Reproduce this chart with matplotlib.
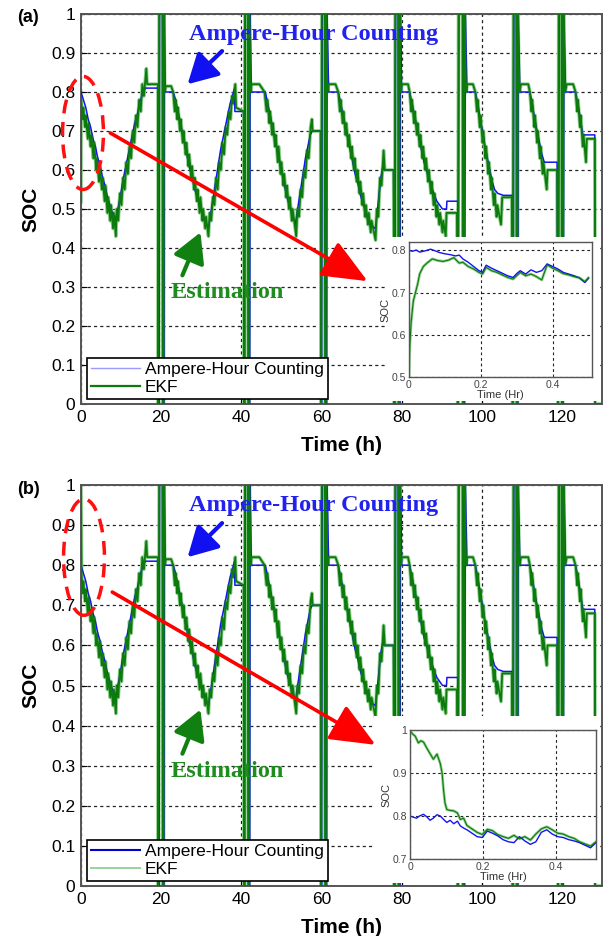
import matplotlib

matplotlib.use("Agg")
import matplotlib.pyplot as plt
import numpy as np
from matplotlib.lines import Line2D
from matplotlib.patches import Ellipse

# ---- main traces: (time h, SOC) vertices, cycle by cycle ----
AH_C1 = [(0, 0.80), (0.6, 0.78), (1.2, 0.76), (1.8, 0.73), (2.4, 0.71), (3.0, 0.68), (3.6, 0.66),
         (4.2, 0.63), (4.8, 0.61), (5.4, 0.58), (6.0, 0.56), (6.6, 0.53), (7.2, 0.51), (7.8, 0.49),
         (8.5, 0.47), (9.2, 0.50), (9.8, 0.53), (10.4, 0.57), (11.0, 0.60), (11.6, 0.63), (12.2, 0.66),
         (12.8, 0.69), (13.4, 0.72), (14.0, 0.74), (14.6, 0.77), (15.2, 0.79), (16.0, 0.81), (19.2, 0.81),
         (19.4, 0.0), (19.6, 1.0), (20.4, 1.0), (20.5, 0.0), (20.7, 0.0), (20.8, 1.0), (21.0, 0.80)]
AH_C2 = [(23.0, 0.80), (23.6, 0.78), (24.2, 0.75), (24.8, 0.72), (25.4, 0.69), (26.0, 0.66), (26.6, 0.63),
         (27.2, 0.60), (27.8, 0.58), (28.4, 0.55), (29.0, 0.53), (29.6, 0.51), (30.2, 0.49), (30.8, 0.47),
         (31.8, 0.45), (32.4, 0.49), (33.0, 0.53), (33.6, 0.57), (34.2, 0.61), (34.8, 0.65), (35.4, 0.68),
         (36.0, 0.71), (36.6, 0.74), (37.2, 0.77), (37.8, 0.79), (38.3, 0.81), (38.4, 0.75), (40.6, 0.75),
         (40.8, 0.0), (41.0, 1.0), (41.8, 1.0), (41.9, 0.0), (42.1, 0.0), (42.2, 1.0), (42.5, 0.80)]
AH_C3 = [(46.0, 0.80), (46.6, 0.77), (47.2, 0.74), (47.8, 0.71), (48.4, 0.68), (49.0, 0.65), (49.6, 0.62),
         (50.2, 0.59), (50.8, 0.56), (51.4, 0.53), (52.0, 0.51), (52.6, 0.49), (53.5, 0.46), (54.2, 0.51),
         (54.8, 0.55), (55.4, 0.59), (56.0, 0.63), (56.6, 0.66), (57.2, 0.69), (57.7, 0.70), (59.8, 0.70),
         (60.0, 0.0), (60.2, 1.0), (61.0, 1.0), (61.1, 0.0), (61.3, 0.0), (61.4, 1.0), (61.8, 0.80)]
AH_C4 = [(64.2, 0.80), (64.8, 0.77), (65.4, 0.74), (66.0, 0.71), (66.6, 0.68), (67.2, 0.65), (67.8, 0.62),
         (68.4, 0.59), (69.0, 0.57), (69.6, 0.54), (70.2, 0.52), (70.8, 0.50), (71.4, 0.48), (72.0, 0.46),
         (73.5, 0.45), (74.2, 0.52), (74.8, 0.58), (75.5, 0.62), (75.6, 0.60), (78.0, 0.60),
         (78.3, 0.0), (78.5, 1.0), (79.3, 1.0), (79.4, 0.0), (79.6, 0.0), (79.7, 1.0), (80.0, 0.80)]
AH_C5 = [(82.0, 0.80), (82.6, 0.77), (83.2, 0.74), (83.8, 0.71), (84.4, 0.68), (85.0, 0.65), (85.6, 0.62),
         (86.2, 0.60), (86.8, 0.58), (87.4, 0.56), (88.0, 0.54), (88.8, 0.52), (90.2, 0.50), (91.2, 0.50),
         (91.3, 0.52), (94.0, 0.52),
         (94.1, 0.0), (94.3, 1.0), (95.4, 1.0), (95.5, 0.0), (95.7, 0.0), (95.9, 1.0), (96.3, 0.80)]
AH_C6 = [(98.4, 0.80), (99.0, 0.77), (99.6, 0.73), (100.2, 0.70), (100.8, 0.66), (101.4, 0.63),
         (102.0, 0.60), (102.6, 0.57), (103.2, 0.55), (104.0, 0.54), (105.4, 0.535), (107.6, 0.535),
         (107.8, 0.0), (108.0, 1.0), (108.7, 1.0), (108.8, 0.0), (109.0, 0.0), (109.1, 1.0), (109.5, 0.80)]
AH_C7 = [(112.0, 0.80), (112.6, 0.77), (113.2, 0.73), (113.8, 0.70), (114.4, 0.67), (115.0, 0.64),
         (115.6, 0.62), (118.8, 0.62),
         (119.1, 0.0), (119.3, 1.0), (120.0, 1.0), (120.1, 0.0), (120.3, 0.0), (120.5, 1.0), (120.9, 0.80)]
AH_C8 = [(123.4, 0.80), (124.0, 0.77), (124.6, 0.73), (125.2, 0.69), (128.2, 0.69), (128.3, 0.0),
         (130.0, 0.0)]

EKF_START_A = [(0.0, 0.52), (0.05, 0.78)]
EKF_START_B = [(0.0, 1.0), (0.15, 0.78)]
EKF_C1 = [(0.4, 0.73), (0.6, 0.76), (1.0, 0.71), (1.2, 0.74), (1.7, 0.68), (1.9, 0.72), (2.4, 0.66),
          (2.6, 0.69), (3.1, 0.63), (3.3, 0.67), (3.8, 0.60), (4.0, 0.63), (4.5, 0.57), (4.7, 0.61),
          (5.2, 0.55), (5.4, 0.58), (5.9, 0.52), (6.1, 0.56), (6.6, 0.49), (6.8, 0.53), (7.3, 0.47),
          (7.5, 0.51), (8.0, 0.45), (8.2, 0.49), (8.7, 0.43), (8.9, 0.50), (9.3, 0.47), (9.7, 0.54),
          (10.1, 0.51), (10.5, 0.58), (10.9, 0.55), (11.3, 0.62), (11.7, 0.59), (12.1, 0.66), (12.5, 0.63),
          (12.9, 0.70), (13.3, 0.67), (13.7, 0.74), (14.1, 0.71), (14.5, 0.78), (14.9, 0.75), (15.3, 0.82),
          (15.7, 0.79), (16.3, 0.86), (16.5, 0.82), (19.2, 0.82),
          (19.3, 0.0), (19.5, 1.0), (20.3, 1.0), (20.4, 0.0), (20.6, 0.0), (20.7, 1.0), (20.9, 0.80),
          (21.2, 0.815), (22.5, 0.815)]
EKF_C2 = [(23.0, 0.80), (23.4, 0.75), (23.6, 0.78), (24.0, 0.73), (24.2, 0.76), (24.7, 0.70), (24.9, 0.73),
          (25.4, 0.67), (25.6, 0.70), (26.1, 0.64), (26.3, 0.67), (26.8, 0.61), (27.0, 0.64), (27.5, 0.58),
          (27.7, 0.61), (28.2, 0.55), (28.4, 0.58), (28.9, 0.52), (29.1, 0.55), (29.6, 0.49), (29.8, 0.53),
          (30.3, 0.47), (30.5, 0.50), (31.0, 0.45), (31.2, 0.48), (31.8, 0.43), (32.1, 0.49), (32.5, 0.47),
          (32.9, 0.53), (33.3, 0.51), (33.7, 0.58), (34.1, 0.55), (34.5, 0.62), (34.9, 0.60), (35.3, 0.67),
          (35.7, 0.64), (36.1, 0.71), (36.5, 0.69), (36.9, 0.75), (37.3, 0.73), (37.7, 0.79), (38.0, 0.77),
          (38.5, 0.82), (38.7, 0.76), (40.6, 0.75),
          (40.7, 0.0), (40.9, 1.0), (41.6, 1.0), (41.7, 0.0), (41.9, 0.0), (42.0, 1.0), (42.3, 0.80),
          (42.6, 0.82), (44.5, 0.82)]
EKF_C3 = [(45.8, 0.80), (46.3, 0.75), (46.5, 0.78), (47.0, 0.72), (47.2, 0.75), (47.7, 0.69), (47.9, 0.72),
          (48.4, 0.66), (48.6, 0.69), (49.1, 0.62), (49.3, 0.66), (49.8, 0.59), (50.0, 0.62), (50.5, 0.56),
          (50.7, 0.59), (51.2, 0.53), (51.4, 0.56), (51.9, 0.50), (52.1, 0.53), (52.6, 0.47), (52.8, 0.50),
          (53.7, 0.43), (54.0, 0.50), (54.4, 0.48), (54.8, 0.55), (55.2, 0.53), (55.6, 0.60), (56.0, 0.58),
          (56.4, 0.65), (56.8, 0.63), (57.3, 0.71), (57.6, 0.73), (57.8, 0.70), (59.8, 0.70),
          (59.9, 0.0), (60.1, 1.0), (60.8, 1.0), (60.9, 0.0), (61.1, 0.0), (61.2, 1.0), (61.5, 0.80),
          (61.8, 0.82), (63.5, 0.82)]
EKF_C4 = [(64.2, 0.80), (64.6, 0.75), (64.8, 0.78), (65.3, 0.72), (65.5, 0.75), (66.0, 0.69), (66.2, 0.72),
          (66.7, 0.66), (66.9, 0.69), (67.4, 0.63), (67.6, 0.66), (68.1, 0.60), (68.3, 0.63), (68.8, 0.57),
          (69.0, 0.60), (69.5, 0.54), (69.7, 0.57), (70.2, 0.51), (70.4, 0.54), (70.9, 0.48), (71.1, 0.51),
          (71.6, 0.46), (71.8, 0.49), (72.3, 0.44), (72.5, 0.47), (73.5, 0.42), (73.8, 0.50), (74.2, 0.48),
          (74.6, 0.58), (75.0, 0.56), (75.5, 0.65), (75.8, 0.60), (78.0, 0.60),
          (78.2, 0.0), (78.4, 1.0), (79.1, 1.0), (79.2, 0.0), (79.4, 0.0), (79.5, 1.0), (79.8, 0.80),
          (80.1, 0.82), (81.6, 0.82)]
EKF_C5 = [(82.0, 0.80), (82.4, 0.75), (82.6, 0.78), (83.1, 0.72), (83.3, 0.75), (83.8, 0.69), (84.0, 0.72),
          (84.5, 0.66), (84.7, 0.69), (85.2, 0.63), (85.4, 0.66), (85.9, 0.60), (86.1, 0.63), (86.6, 0.57),
          (86.8, 0.60), (87.3, 0.54), (87.5, 0.57), (88.0, 0.51), (88.2, 0.54), (88.7, 0.48), (88.9, 0.51),
          (89.4, 0.46), (89.6, 0.49), (90.2, 0.44), (90.4, 0.47), (91.0, 0.43), (91.2, 0.49), (93.8, 0.49),
          (94.0, 0.0), (94.2, 1.0), (95.2, 1.0), (95.3, 0.0), (95.5, 0.0), (95.7, 1.0), (96.1, 0.80),
          (96.4, 0.82), (97.8, 0.82)]
EKF_C6 = [(98.4, 0.80), (98.8, 0.75), (99.0, 0.78), (99.5, 0.71), (99.7, 0.74), (100.2, 0.67),
          (100.4, 0.70), (100.9, 0.63), (101.1, 0.66), (101.6, 0.59), (101.8, 0.62), (102.3, 0.55),
          (102.5, 0.58), (103.0, 0.51), (103.2, 0.54), (103.7, 0.48), (103.9, 0.51), (104.8, 0.46),
          (105.1, 0.53), (107.5, 0.53),
          (107.7, 0.0), (107.9, 1.0), (108.6, 1.0), (108.7, 0.0), (108.9, 0.0), (109.0, 1.0), (109.4, 0.80),
          (109.8, 0.82), (111.6, 0.82)]
EKF_C7 = [(112.0, 0.80), (112.4, 0.75), (112.6, 0.78), (113.1, 0.71), (113.3, 0.74), (113.8, 0.67),
          (114.0, 0.70), (114.5, 0.63), (114.7, 0.66), (115.2, 0.59), (115.4, 0.62), (116.2, 0.55),
          (116.4, 0.60), (118.8, 0.60),
          (119.0, 0.0), (119.2, 1.0), (119.9, 1.0), (120.0, 0.0), (120.2, 0.0), (120.4, 1.0), (120.8, 0.80),
          (121.2, 0.82), (122.8, 0.82)]
EKF_C8 = [(123.4, 0.80), (123.8, 0.75), (124.0, 0.78), (124.5, 0.71), (124.7, 0.74), (125.2, 0.66),
          (125.4, 0.69), (126.0, 0.62), (126.2, 0.68), (128.2, 0.68), (128.3, 0.0), (130.0, 0.0)]

AH_CYCLES = [AH_C1, AH_C2, AH_C3, AH_C4, AH_C5, AH_C6, AH_C7, AH_C8]
EKF_CYCLES = [EKF_C1, EKF_C2, EKF_C3, EKF_C4, EKF_C5, EKF_C6, EKF_C7, EKF_C8]

# ---- insets: first half hour ----
INSET_A_AH_T = [0, 0.01, 0.02, 0.03, 0.045, 0.06, 0.07, 0.085, 0.1, 0.115, 0.13, 0.14, 0.15, 0.165, 0.18,
                0.195, 0.205, 0.215, 0.23, 0.245, 0.26, 0.275, 0.29, 0.3, 0.31, 0.325, 0.34, 0.355, 0.37,
                0.385, 0.4, 0.415, 0.43, 0.445, 0.46, 0.475, 0.49, 0.5]
INSET_A_AH = [0.800, 0.798, 0.801, 0.796, 0.799, 0.803, 0.800, 0.795, 0.792, 0.790, 0.787, 0.789, 0.780,
              0.772, 0.762, 0.752, 0.748, 0.765, 0.758, 0.752, 0.746, 0.740, 0.736, 0.745, 0.752, 0.744,
              0.754, 0.748, 0.752, 0.768, 0.762, 0.756, 0.748, 0.744, 0.740, 0.735, 0.724, 0.734]
INSET_A_EKF_T = [0, 0.002, 0.006, 0.012, 0.018, 0.024, 0.03, 0.04, 0.05, 0.065, 0.08, 0.095, 0.11, 0.125,
                 0.14, 0.15, 0.165, 0.18, 0.195, 0.205, 0.215, 0.23, 0.245, 0.26, 0.275, 0.29, 0.3, 0.31,
                 0.325, 0.34, 0.355, 0.37, 0.385, 0.4, 0.415, 0.43, 0.445, 0.46, 0.475, 0.49, 0.5]
INSET_A_EKF = [0.50, 0.57, 0.63, 0.68, 0.70, 0.72, 0.745, 0.762, 0.770, 0.780, 0.776, 0.774, 0.777, 0.783,
               0.770, 0.772, 0.762, 0.756, 0.748, 0.744, 0.760, 0.752, 0.748, 0.742, 0.736, 0.732, 0.740,
               0.748, 0.740, 0.744, 0.738, 0.730, 0.766, 0.758, 0.752, 0.745, 0.742, 0.738, 0.735, 0.726,
               0.735]

INSET_B_AH_T = [0, 0.01, 0.018, 0.026, 0.037, 0.046, 0.055, 0.064, 0.074, 0.083, 0.092, 0.101, 0.11, 0.12,
                0.13, 0.138, 0.147, 0.156, 0.17, 0.184, 0.198, 0.212, 0.226, 0.24, 0.255, 0.27, 0.285, 0.3,
                0.315, 0.33, 0.345, 0.36, 0.375, 0.39, 0.405, 0.42, 0.435, 0.45, 0.465, 0.48, 0.495, 0.51]
INSET_B_AH = [0.800, 0.797, 0.795, 0.800, 0.804, 0.798, 0.790, 0.795, 0.803, 0.800, 0.792, 0.785, 0.790,
              0.782, 0.788, 0.777, 0.772, 0.768, 0.760, 0.752, 0.750, 0.765, 0.760, 0.754, 0.745, 0.740,
              0.738, 0.752, 0.742, 0.734, 0.740, 0.762, 0.768, 0.758, 0.752, 0.750, 0.745, 0.742, 0.738,
              0.732, 0.726, 0.738]
INSET_B_EKF_T = [0, 0.008, 0.014, 0.023, 0.03, 0.037, 0.046, 0.055, 0.064, 0.074, 0.083, 0.088, 0.092,
                 0.096, 0.101, 0.11, 0.12, 0.13, 0.138, 0.147, 0.156, 0.17, 0.184, 0.198, 0.212, 0.226, 0.24,
                 0.255, 0.27, 0.285, 0.3, 0.315, 0.33, 0.345, 0.36, 0.375, 0.39, 0.405, 0.42, 0.435, 0.45,
                 0.465, 0.48, 0.495, 0.51]
INSET_B_EKF = [0.998, 0.990, 0.986, 0.970, 0.975, 0.972, 0.958, 0.945, 0.932, 0.944, 0.922, 0.90, 0.86,
               0.83, 0.815, 0.813, 0.812, 0.807, 0.792, 0.795, 0.778, 0.770, 0.762, 0.757, 0.769, 0.766,
               0.757, 0.752, 0.748, 0.755, 0.747, 0.752, 0.744, 0.758, 0.770, 0.775, 0.768, 0.760, 0.758,
               0.752, 0.748, 0.740, 0.735, 0.730, 0.740]

X_TICKS = [0, 20, 40, 60, 80, 100, 120]
Y_TICKS = [0, 0.1, 0.2, 0.3, 0.4, 0.5, 0.6, 0.7, 0.8, 0.9, 1.0]
Y_TICK_LABELS = ["0", "0.1", "0.2", "0.3", "0.4", "0.5", "0.6", "0.7", "0.8", "0.9", "1"]

BLUE = "#1414f0"
GREEN = "#0d7a0d"
LIGHT_GREEN = "#8fcf8f"
SANS = "Liberation Sans"
SERIF = "Liberation Serif"

W, H = 608, 936


def split(segments):
    pts = [p for seg in segments for p in seg]
    t, s = zip(*pts)
    return np.array(t), np.array(s)


def rect(l, t, r, b):
    return [l / W, 1 - b / H, (r - l) / W, (b - t) / H]


def style_grid(ax, lw=0.9):
    ax.grid(True, color="#222222", linestyle=(0, (2.5, 2.5)), linewidth=lw)
    for sp in ax.spines.values():
        sp.set_color("#555555")


def draw_panel(fig, main_box, ekf_start, white_box, inset_box, inset, inset_ylim, inset_yticks,
               legend_styles, ellipse_xy, red_arrow):
    ax = fig.add_axes(rect(*main_box))
    t_ah, s_ah = split(AH_CYCLES)
    t_ekf, s_ekf = split([ekf_start] + EKF_CYCLES)

    ax.plot(t_ekf, s_ekf, color=LIGHT_GREEN, lw=2.6, zorder=2)
    ax.plot(t_ah, s_ah, color=BLUE, lw=1.1, zorder=3)
    ax.plot(t_ekf, s_ekf, color=GREEN, lw=1.3, zorder=4)

    ax.set_xlim(0, 130)
    ax.set_ylim(0, 1)
    ax.set_xticks(X_TICKS)
    ax.set_yticks(Y_TICKS)
    ax.set_yticklabels(Y_TICK_LABELS)
    ax.tick_params(direction="in", length=4, labelsize=12.5, pad=4, width=0.8)
    for lab in ax.get_xticklabels() + ax.get_yticklabels():
        lab.set_family(SANS)
    style_grid(ax)
    for sp in ax.spines.values():
        sp.set_linewidth(1.4)
    ax.set_xlabel("Time (h)", fontsize=15, fontweight="bold", family=SANS, labelpad=8)
    ax.set_ylabel("SOC", fontsize=15, fontweight="bold", family=SANS, labelpad=8)

    (ah_color, ah_lw), (ekf_color, ekf_lw) = legend_styles
    handles = [Line2D([], [], color=ah_color, lw=ah_lw), Line2D([], [], color=ekf_color, lw=ekf_lw)]
    leg = ax.legend(handles, ["Ampere-Hour Counting", "EKF"], loc="lower left",
                    bbox_to_anchor=(0.011, 0.012), borderaxespad=0, fancybox=False, framealpha=1,
                    edgecolor="black", handlelength=2.8, handletextpad=0.3, borderpad=0.25,
                    labelspacing=0.15, prop={"family": SANS, "size": 12.5})
    leg.get_frame().set_linewidth(1.2)
    leg.set_zorder(10)

    # annotations
    ax.text(58, 0.948, "Ampere-Hour Counting", color="#2222ee", fontsize=17.5, fontweight="bold",
            family=SERIF, ha="center", va="center", zorder=6)
    ax.annotate("", xy=(26.6, 0.82), xytext=(35.2, 0.905),
                arrowprops=dict(arrowstyle="-|>,head_length=0.9,head_width=0.5", color="#1010f0",
                                lw=3, mutation_scale=20, shrinkA=0, shrinkB=0), zorder=6)
    ax.text(36.5, 0.285, "Estimation", color="#1e8c1e", fontsize=17.5, fontweight="bold",
            family=SERIF, ha="center", va="center", zorder=6)
    ax.annotate("", xy=(29.8, 0.44), xytext=(25.3, 0.33),
                arrowprops=dict(arrowstyle="-|>,head_length=0.9,head_width=0.5", color="#108010",
                                lw=3, mutation_scale=20, shrinkA=0, shrinkB=0), zorder=6)
    ax.add_patch(Ellipse(ellipse_xy, width=10.2, height=0.29, fill=False, ec="#ff1010", lw=2.5,
                         ls=(0, (4, 2.5)), clip_on=False, zorder=7))
    tail, tip = red_arrow
    ax.annotate("", xy=tip, xytext=tail,
                arrowprops=dict(arrowstyle="-|>,head_length=1.4,head_width=0.6", color="#ff0000",
                                lw=2.6, mutation_scale=20, shrinkA=0, shrinkB=0), zorder=7)

    # white backing of the pasted inset picture
    back = fig.add_axes(rect(*white_box))
    back.set_facecolor("white")
    back.set_xticks([])
    back.set_yticks([])
    for sp in back.spines.values():
        sp.set_visible(False)

    # inset
    ins = fig.add_axes(rect(*inset_box))
    (ah_t, ah_s), (ekf_t, ekf_s) = inset
    ins.plot(ekf_t, ekf_s, color=LIGHT_GREEN, lw=2.0)
    ins.plot(ah_t, ah_s, color=BLUE, lw=1.0)
    ins.plot(ekf_t, ekf_s, color=GREEN, lw=0.8)
    ins.set_xlim(0, 0.51)
    ins.set_ylim(*inset_ylim)
    ins.set_xticks([0, 0.2, 0.4])
    ins.set_xticklabels(["0", "0.2", "0.4"])
    ins.set_yticks(inset_yticks)
    ins.set_yticklabels([f"{v:g}" for v in inset_yticks])
    ins.tick_params(direction="in", length=2.5, labelsize=7.5, pad=2, colors="#444444", width=0.6)
    for lab in ins.get_xticklabels() + ins.get_yticklabels():
        lab.set_family(SANS)
    style_grid(ins, lw=0.8)
    for sp in ins.spines.values():
        sp.set_linewidth(1.0)
    ins.set_xlabel("Time (Hr)", fontsize=8, family=SANS, color="#333333", labelpad=0)
    ins.set_ylabel("SOC", fontsize=8, family=SANS, color="#333333", labelpad=1)
    return ax


def main() -> None:
    fig = plt.figure(figsize=(W / 100, H / 100), dpi=100)

    draw_panel(fig, (81, 14, 602, 404), EKF_START_A, (386, 237, 599, 401), (409, 242, 592, 377),
               ((INSET_A_AH_T, INSET_A_AH), (INSET_A_EKF_T, INSET_A_EKF)), (0.5, 0.82),
               [0.5, 0.6, 0.7, 0.8], (("#9a9aff", 1.0), (GREEN, 1.6)), (0.5, 0.695),
               ((7.3, 0.695), (71.5, 0.315)))
    draw_panel(fig, (81, 485, 602, 886), EKF_START_B, (374, 716, 600, 883), (410, 730, 596, 859),
               ((INSET_B_AH_T, INSET_B_AH), (INSET_B_EKF_T, INSET_B_EKF)), (0.7, 1.0),
               [0.7, 0.8, 0.9, 1.0], (("#0000cc", 1.5), ("#9ad19a", 1.4)), (0.75, 0.82),
               ((7.8, 0.733), (73.5, 0.352)))

    fig.text(17 / W, 1 - 18 / H, "(a)", fontsize=13, fontweight="bold", family=SANS,
             va="center", ha="left")
    fig.text(17 / W, 1 - 489 / H, "(b)", fontsize=13, fontweight="bold", family=SANS,
             va="center", ha="left")

    fig.savefig("out.png", dpi=100)


if __name__ == "__main__":
    main()
